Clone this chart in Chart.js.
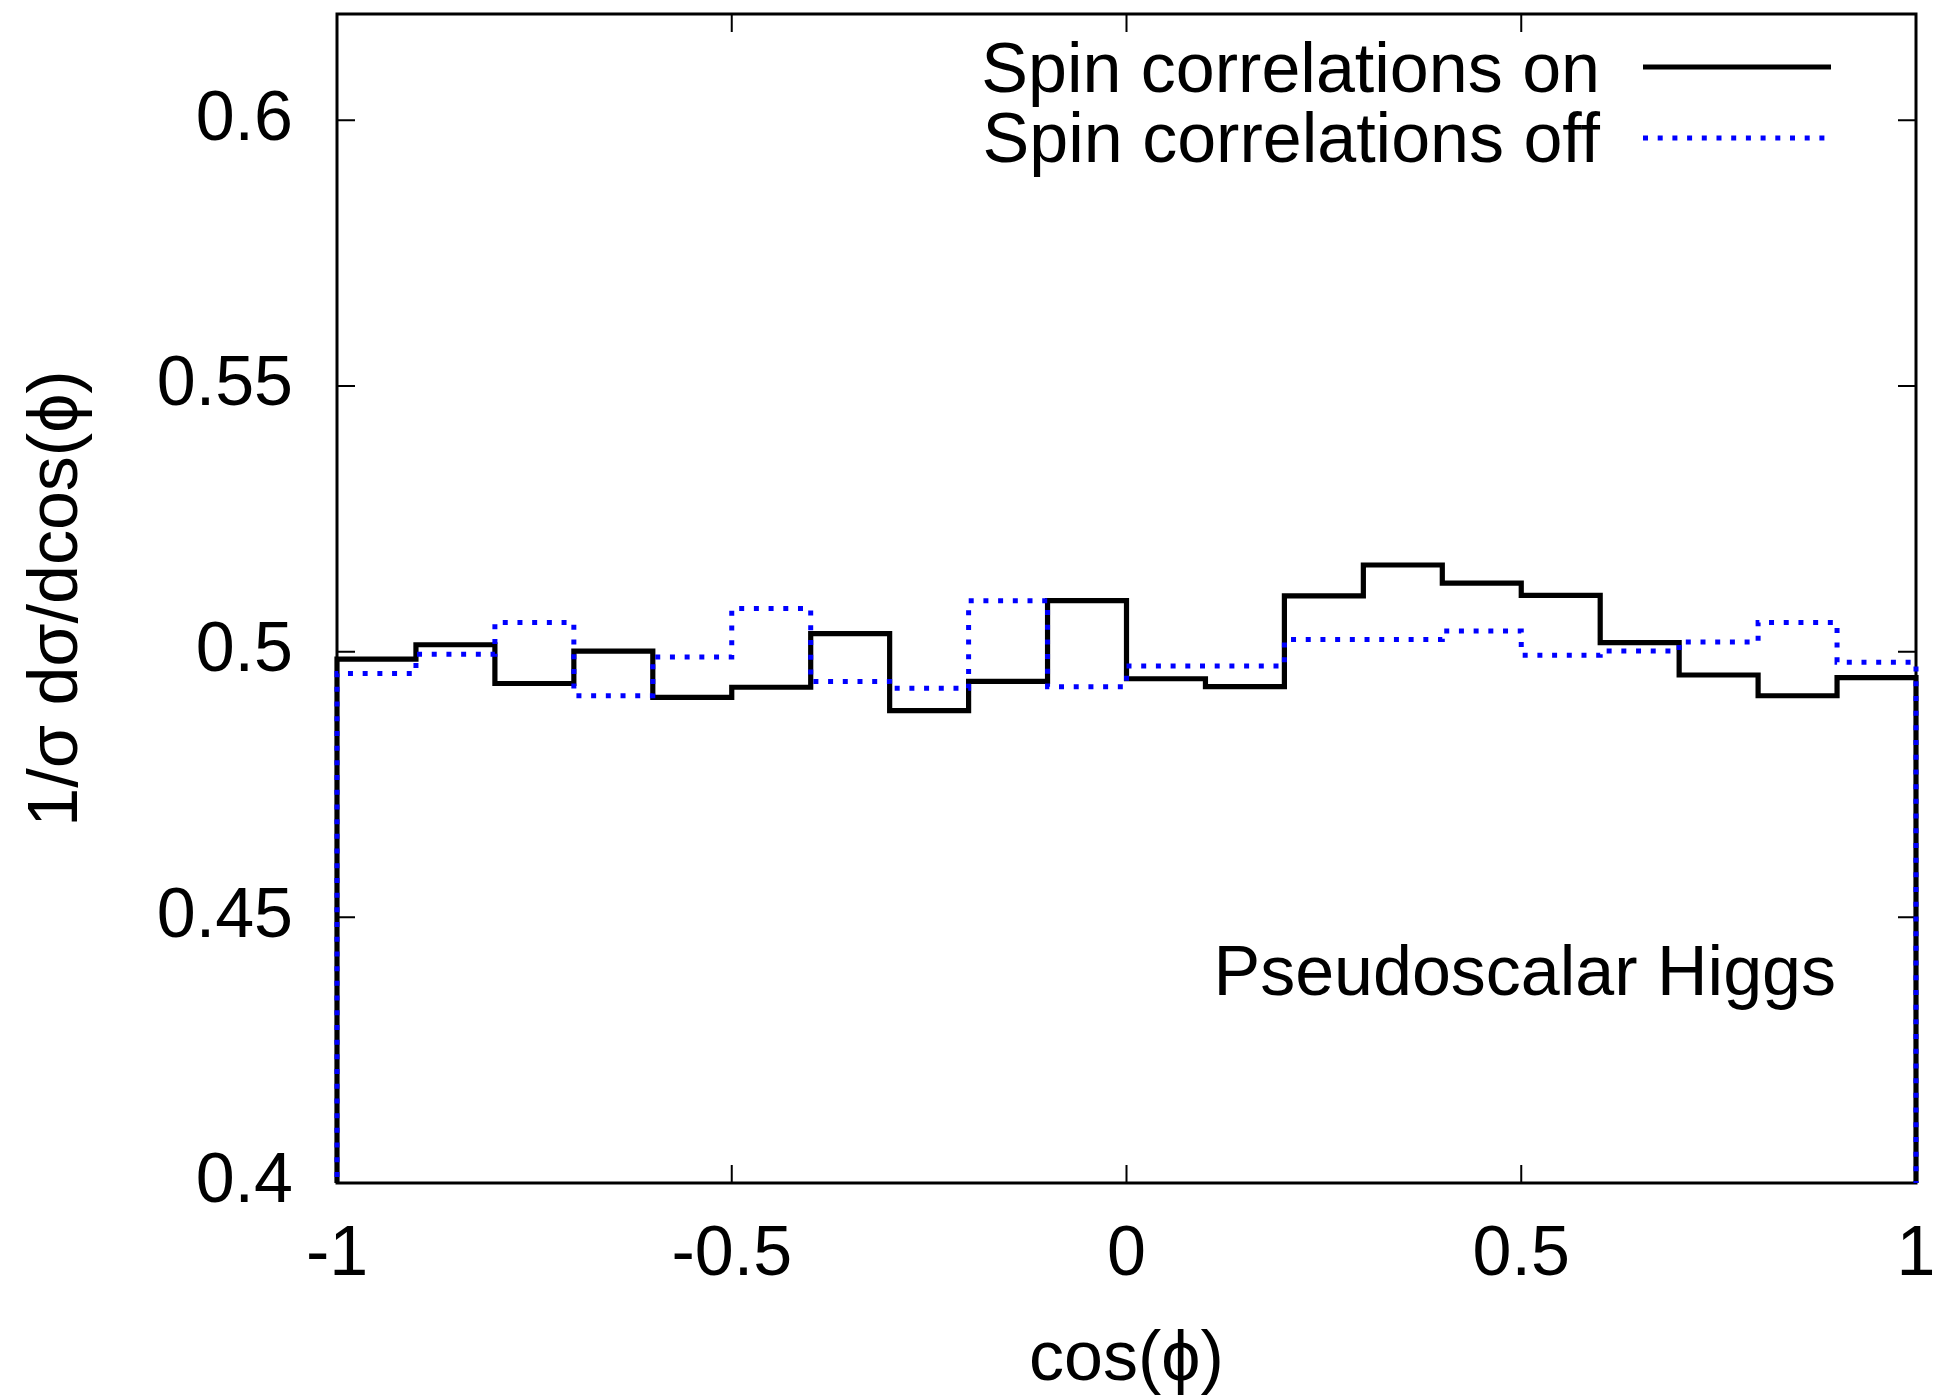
<!DOCTYPE html>
<html>
<head>
<meta charset="utf-8">
<script src="https://cdn.jsdelivr.net/npm/chart.js@4.4.1/dist/chart.umd.min.js"></script>
<style>
  html, body { margin: 0; padding: 0; background: #fff; }
</style>
</head>
<body>
<canvas id="chart" width="1938" height="1399"></canvas>
<script>
// bin edges of cos(phi), 20 bins of width 0.1
const binEdges = [-1, -0.9, -0.8, -0.7, -0.6, -0.5, -0.4, -0.3, -0.2, -0.1, 0,
                  0.1, 0.2, 0.3, 0.4, 0.5, 0.6, 0.7, 0.8, 0.9, 1];
const spinOn  = [0.4986, 0.5013, 0.4940, 0.5001, 0.4914, 0.4933, 0.5034, 0.4889, 0.4944, 0.5096,
                 0.4949, 0.4934, 0.5105, 0.5163, 0.5129, 0.5106, 0.5017, 0.4956, 0.4917, 0.4951];
const spinOff = [0.4959, 0.4995, 0.5055, 0.4917, 0.4990, 0.5081, 0.4944, 0.4931, 0.5096, 0.4934,
                 0.4973, 0.4973, 0.5023, 0.5023, 0.5039, 0.4993, 0.5001, 0.5018, 0.5055, 0.4980];
const xTicks = [-1, -0.5, 0, 0.5, 1];
const yTicks = [0.4, 0.45, 0.5, 0.55, 0.6];
const seriesNames = ['Spin correlations on', 'Spin correlations off'];
const annotation = 'Pseudoscalar Higgs';

const FONT = "'Liberation Sans', Arial, Helvetica, sans-serif";

// histogram steps, dropping to zero at both ends like gnuplot histeps
function histSteps(values) {
    const last = binEdges[binEdges.length - 1];
    const pts = [{x: binEdges[0], y: 0}];
    values.forEach((v, i) => pts.push({x: binEdges[i], y: v}));
    pts.push({x: last, y: values[values.length - 1]});
    pts.push({x: last, y: 0});
    return pts;
}

const framePlugin = {
    id: 'frame',
    beforeDatasetsDraw(chart) {
        const {ctx, chartArea: a, scales} = chart;
        ctx.save();
        ctx.strokeStyle = '#000';
        ctx.lineWidth = 2;
        const tl = 18;
        scales.x.ticks.forEach(t => {
            const px = scales.x.getPixelForValue(t.value);
            ctx.beginPath();
            ctx.moveTo(px, a.bottom); ctx.lineTo(px, a.bottom - tl);
            ctx.moveTo(px, a.top); ctx.lineTo(px, a.top + tl);
            ctx.stroke();
        });
        scales.y.ticks.forEach(t => {
            const py = scales.y.getPixelForValue(t.value);
            ctx.beginPath();
            ctx.moveTo(a.left, py); ctx.lineTo(a.left + tl, py);
            ctx.moveTo(a.right, py); ctx.lineTo(a.right - tl, py);
            ctx.stroke();
        });
        ctx.lineWidth = 3;
        ctx.strokeRect(a.left, a.top, a.right - a.left, a.bottom - a.top);
        ctx.restore();
    },
    afterDraw(chart) {
        const {ctx} = chart;
        ctx.save();
        ctx.font = '70px ' + FONT;
        ctx.fillStyle = '#000';
        ctx.textAlign = 'right';
        ctx.textBaseline = 'alphabetic';
        // key, top right inside the plot
        const rows = [{base: 92, line: 67}, {base: 162, line: 138}];
        chart.data.datasets.forEach((ds, i) => {
            ctx.fillText(ds.label, 1600, rows[i].base);
            ctx.save();
            ctx.strokeStyle = ds.borderColor;
            ctx.lineWidth = ds.borderWidth;
            ctx.setLineDash(ds.borderDash || []);
            ctx.beginPath();
            ctx.moveTo(1643, rows[i].line);
            ctx.lineTo(1831, rows[i].line);
            ctx.stroke();
            ctx.restore();
        });
        ctx.fillText(annotation, 1836, 995);
        ctx.restore();
    }
};

const tickFont = {family: FONT, size: 70};
const titleFont = {family: FONT, size: 70, lineHeight: 1};

new Chart(document.getElementById('chart'), {
    type: 'line',
    data: {
        datasets: [{
            label: seriesNames[0],
            data: histSteps(spinOn),
            borderColor: '#000000',
            borderWidth: 5.2,
            stepped: true,
            pointRadius: 0,
            fill: false,
            order: 1,
            clip: {left: 5, right: 5, top: 0, bottom: 0}
        }, {
            label: seriesNames[1],
            data: histSteps(spinOff),
            borderColor: '#0000ff',
            borderWidth: 5,
            borderDash: [5, 9.7],
            stepped: true,
            pointRadius: 0,
            fill: false,
            order: 0,
            clip: {left: 5, right: 5, top: 0, bottom: 0}
        }]
    },
    options: {
        responsive: false,
        animation: false,
        devicePixelRatio: 1,
        layout: {padding: {top: 14, right: 22, left: 0, bottom: 0}},
        plugins: {
            legend: {display: false},
            tooltip: {enabled: false}
        },
        scales: {
            x: {
                type: 'linear',
                min: -1,
                max: 1,
                afterBuildTicks: s => { s.ticks = xTicks.map(v => ({value: v})); },
                afterFit: s => { s.height = 216; s.paddingLeft = 0; s.paddingRight = 0; },
                grid: {display: false, drawTicks: false},
                border: {display: false},
                ticks: {font: tickFont, color: '#000', padding: 31, maxRotation: 0, autoSkip: false,
                        callback: v => String(v)},
                title: {display: true, text: 'cos(ϕ)', font: titleFont, color: '#000',
                        padding: {top: 0, bottom: 3}}
            },
            y: {
                min: 0.4,
                max: 0.62,
                afterBuildTicks: s => { s.ticks = yTicks.map(v => ({value: v})); },
                afterFit: s => { s.width = 337; s.paddingTop = 0; s.paddingBottom = 0; },
                grid: {display: false, drawTicks: false},
                border: {display: false},
                ticks: {font: tickFont, color: '#000', padding: 44, autoSkip: false,
                        callback: v => String(v)},
                title: {display: true, text: '1/σ dσ/dcos(ϕ)', font: titleFont, color: '#000',
                        padding: {top: 23, bottom: 0}}
            }
        }
    },
    plugins: [framePlugin]
});
</script>
</body>
</html>
